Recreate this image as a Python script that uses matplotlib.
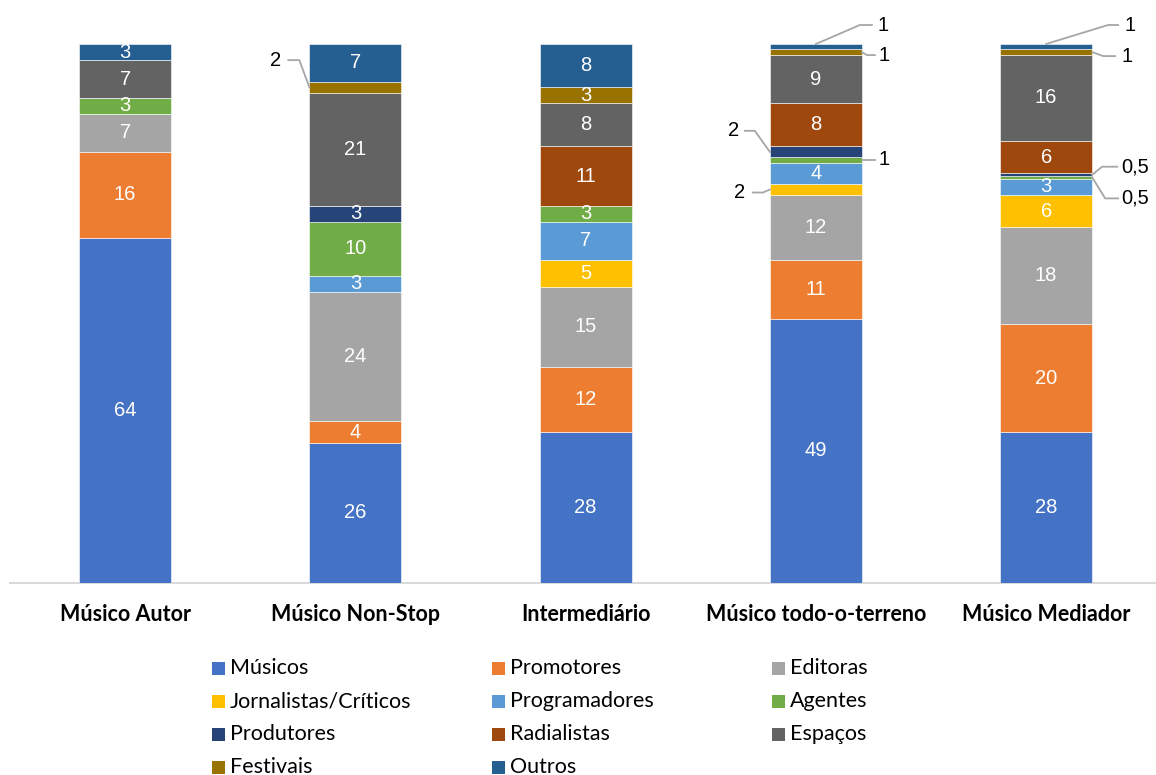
import matplotlib
matplotlib.use("Agg")
import matplotlib.pyplot as plt
from matplotlib.patches import Rectangle
from matplotlib.lines import Line2D

categories = ["Músico Autor", "Músico Non-Stop", "Intermediário",
              "Músico todo-o-terreno", "Músico Mediador"]
series_names = ["Músicos", "Promotores", "Editoras", "Jornalistas/Críticos",
                "Programadores", "Agentes", "Produtores", "Radialistas",
                "Espaços", "Festivais", "Outros"]
colors = ["#4472C4", "#ED7D31", "#A5A5A5", "#FFC000", "#5B9BD5", "#70AD47",
          "#264478", "#9E480E", "#636363", "#997300", "#255E91"]

musicos       = [64, 26, 28, 49, 28]
promotores    = [16, 4, 12, 11, 20]
editoras      = [7, 24, 15, 12, 18]
jornalistas   = [0, 0, 5, 2, 6]
programadores = [0, 3, 7, 4, 3]
agentes       = [3, 10, 3, 1, 0.5]
produtores    = [0, 3, 0, 2, 0.5]
radialistas   = [0, 0, 11, 8, 6]
espacos       = [7, 21, 8, 9, 16]
festivais     = [0, 2, 3, 1, 1]
outros        = [3, 7, 8, 1, 1]

series = [musicos, promotores, editoras, jornalistas, programadores, agentes,
          produtores, radialistas, espacos, festivais, outros]

W, H = 1156, 775
AX_LEFT, AX_W = 10, 1151.25
fig = plt.figure(figsize=(W / 100, H / 100), dpi=100)
ax = fig.add_axes([AX_LEFT / W, (H - 583) / H, AX_W / W, 539 / H])
ax.set_xlim(-0.5, 4.5)
ax.set_ylim(0, 100)
for s in ax.spines.values():
    s.set_visible(False)
ax.set_yticks([])
ax.set_xticks([])
# category axis line
ax.axhline(0, xmin=0, xmax=1145 / AX_W, color="#D9D9D9", linewidth=1.5,
           clip_on=False, zorder=1)

LABEL_FONT = ["Liberation Sans", "DejaVu Sans"]
CAT_FONT = ["Lato", "DejaVu Sans"]

x = list(range(len(categories)))
bottoms = [0.0] * len(categories)
seg_pos = {}
for si, (name, vals, col) in enumerate(zip(series_names, series, colors)):
    ax.bar(x, vals, width=0.4, bottom=bottoms, color=col,
           edgecolor="white", linewidth=0.4, zorder=2)
    for ci, v in enumerate(vals):
        seg_pos[(si, ci)] = (bottoms[ci], bottoms[ci] + v)
        if v >= 3:
            ax.text(ci, bottoms[ci] + v / 2, f"{v:g}", ha="center", va="center",
                    color="white", fontsize=14.5, family=LABEL_FONT, zorder=3)
    bottoms = [b + v for b, v in zip(bottoms, vals)]

for ci, cat in enumerate(categories):
    ax.text(ci, -5.8, cat, ha="center", va="center", fontsize=15.5,
            fontweight="bold", family=CAT_FONT)

# Leader-line labels for thin segments:
# (series, category, anchor side, knee offset px, line end offset px, text x offset px)
callouts = [
    (9, 1, "left",  (-10, 27), (-21, 27), -28),
    (10, 3, "top",  (44, 19), (56, 19), 62),
    (9, 3, "right", (5, -3), (13, -3), 17),
    (6, 3, "left",  (-15, 21), (-25, 21), -31),
    (5, 3, "right", (5, 0), (13, 0), 17),
    (3, 3, "left",  (-7, -3), (-17, -3), -25),
    (10, 4, "top",  (62, 19), (72, 19), 78),
    (9, 4, "right", (11, -4), (23, -4), 29),
    (6, 4, "right", (10, 8), (25, 8), 29),
    (5, 4, "right", (13, -21), (26, -21), 29),
]
fig.canvas.draw()
to_disp = ax.transData.transform
for si, ci, side, knee, end, tdx in callouts:
    lo, hi = seg_pos[(si, ci)]
    v = series[si][ci]
    if side == "left":
        ax_pt = to_disp((ci - 0.2, (lo + hi) / 2))
    elif side == "right":
        ax_pt = to_disp((ci + 0.2, (lo + hi) / 2))
    else:
        ax_pt = to_disp((ci, hi))
    xs = [ax_pt[0], ax_pt[0] + knee[0], ax_pt[0] + end[0]]
    ys = [ax_pt[1], ax_pt[1] + knee[1], ax_pt[1] + end[1]]
    fig.add_artist(Line2D(xs, ys, color="#A6A6A6", linewidth=1.3,
                          transform=None, zorder=4))
    label = f"{v:g}".replace(".", ",")
    fig.text((ax_pt[0] + tdx) / W, ys[-1] / H, label,
             ha="right" if side == "left" else "left", va="center",
             fontsize=14.5, family=LABEL_FONT, color="black")

# Legend laid out in three columns, row by row
leg_cols = [212, 492, 772]
leg_rows = [668, 701, 734, 767]
for i, (name, col) in enumerate(zip(series_names, colors)):
    r, c = divmod(i, 3)
    px, py = leg_cols[c], leg_rows[r]
    fig.add_artist(Rectangle((px / W, (H - py - 6.5) / H), 13 / W, 13 / H,
                             transform=fig.transFigure, facecolor=col,
                             edgecolor="none"))
    fig.text((px + 18) / W, (H - py) / H, name, ha="left", va="center",
             fontsize=15.5, family=CAT_FONT)

fig.savefig("out.png", dpi=100, facecolor="white")
